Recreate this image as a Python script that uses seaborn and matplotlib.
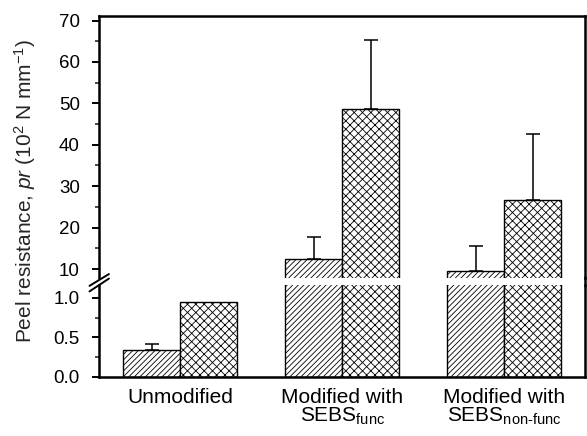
import numpy as np
import pandas as pd
import matplotlib
matplotlib.use("Agg")
import matplotlib.pyplot as plt
from matplotlib.lines import Line2D
import seaborn as sns

# data
groups = ["Unmodified",
          "Modified with\nSEBS$_{\\mathregular{func}}$",
          "Modified with\nSEBS$_{\\mathregular{non\u2010func}}$"]
series = ["hatched", "cross"]
hatched_vals = [0.34, 12.4, 9.6]
hatched_err = [0.08, 5.3, 5.9]
cross_vals = [0.95, 48.6, 26.6]
cross_err = [0.0, 16.8, 15.9]

sns.set_theme(style="ticks")
plt.rcParams['font.family'] = ['Liberation Sans', 'DejaVu Sans']
plt.rcParams['mathtext.fontset'] = 'custom'
plt.rcParams['mathtext.rm'] = 'Liberation Sans'
plt.rcParams['mathtext.it'] = 'Liberation Sans:italic'
plt.rcParams['hatch.linewidth'] = 0.6
plt.rcParams['hatch.color'] = '#333333'

df = pd.DataFrame({
    'group': groups * 2,
    'series': [series[0]] * 3 + [series[1]] * 3,
    'value': hatched_vals + cross_vals,
    'err': hatched_err + cross_err,
})

fig = plt.figure(figsize=(5.87, 4.36), dpi=100)
ax_top = fig.add_axes([0.169, 1 - 278 / 436, 0.828, (278 - 16) / 436])
ax_bot = fig.add_axes([0.169, 1 - 376.7 / 436, 0.828, (376.7 - 285) / 436])

hatches = {'hatched': '//////', 'cross': 'xxxx'}
for ax in (ax_top, ax_bot):
    sns.barplot(data=df, x='group', y='value', hue='series', order=groups,
                hue_order=series, palette=['white', 'white'], width=0.704,
                edgecolor='black', linewidth=1.0, errorbar=None, legend=False, ax=ax)
    # patches come hue level first, then category
    for i, p in enumerate(ax.patches[:6]):
        p.set_hatch(hatches[series[i // 3]])
    # upward error bars only
    for i, p in enumerate(ax.patches[:6]):
        e = df['err'].iloc[i]
        if e <= 0:
            continue
        xc = p.get_x() + p.get_width() / 2
        ax.errorbar(xc, p.get_height(), yerr=[[0], [e]], fmt='none', ecolor='black',
                    elinewidth=1.1, capsize=5, capthick=1.1)
    ax.set_xlim(-0.5, 2.5)
    ax.set_xlabel('')
    ax.set_ylabel('')
    for s in ax.spines.values():
        s.set_linewidth(1.8)
        s.set_color('black')
    ax.tick_params(axis='y', which='major', direction='out', length=5, width=1.4,
                   labelsize=13.5, colors='black', pad=9)
    ax.tick_params(axis='y', which='minor', direction='out', length=3, width=1.2)

ax_top.set_ylim(7.83, 71.1)
ax_top.set_yticks([10, 20, 30, 40, 50, 60, 70])
ax_top.set_yticks(np.arange(15, 70, 10), minor=True)
ax_top.spines['bottom'].set_visible(False)
ax_top.tick_params(axis='x', bottom=False, labelbottom=False)

ax_bot.set_ylim(0, 1.165)
ax_bot.set_yticks([0.0, 0.5, 1.0])
ax_bot.set_yticklabels(['0.0', '0.5', '1.0'])
ax_bot.set_yticks([0.25, 0.75], minor=True)
ax_bot.spines['top'].set_visible(False)
ax_bot.tick_params(axis='x', bottom=False, labelsize=15, pad=2, colors='black')
for lab in ax_bot.get_xticklabels():
    lab.set_linespacing(0.95)

# break marks on the left spine
ax_top.plot([-0.02, 0.02], [-0.03, 0.015], transform=ax_top.transAxes,
            color='black', lw=1.4, clip_on=False)
ax_bot.plot([-0.02, 0.02], [0.93, 1.07], transform=ax_bot.transAxes,
            color='black', lw=1.4, clip_on=False)

# right spine runs through the gap
xr = 0.169 + 0.828
fig.add_artist(Line2D([xr, xr], [1 - 286 / 436, 1 - 277 / 436], color='black', lw=1.8))

fig.text(25 / 587, 1 - 191 / 436, 'Peel resistance, $\\it{pr}$ (10$^{2}$ N mm$^{-1}$)',
         rotation=90, ha='center', va='center', fontsize=15)

fig.savefig('out.png', dpi=100)
